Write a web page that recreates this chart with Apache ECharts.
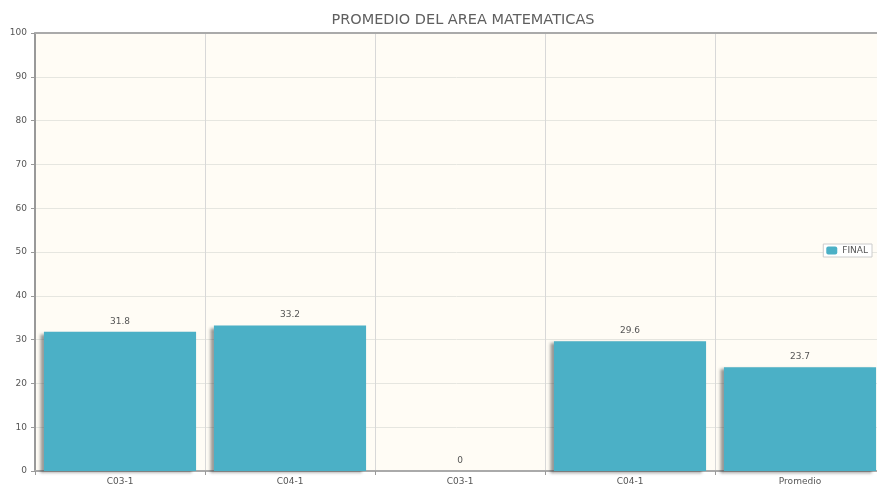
<!DOCTYPE html>
<html><head><meta charset="utf-8">
<script src="https://cdn.jsdelivr.net/npm/echarts@6/dist/echarts.min.js"></script>
<style>html,body{margin:0;padding:0;background:#fff}#c{width:877px;height:484px}</style>
</head><body><div id="c"></div>
<script>
const titleText = 'PROMEDIO DEL AREA MATEMATICAS';
const categories = ['C03-1', 'C04-1', 'C03-1 ', 'C04-1 ', 'Promedio'];
const seriesName = 'FINAL';
const finalValues = [31.8, 33.2, 0, 29.6, 23.7];
const yTicks = [0, 10, 20, 30, 40, 50, 60, 70, 80, 90, 100];

const chart = echarts.init(document.getElementById('c'));
chart.setOption({
  animation: false,
  backgroundColor: '#fff',
  title: {
    text: titleText, left: 458, textAlign: 'center', top: 8,
    textStyle: {fontFamily: 'DejaVu Sans', fontSize: 14.5, fontWeight: 'normal', color: '#5f5f5f'}
  },
  legend: {
    data: [seriesName], right: 5, top: 244, orient: 'vertical',
    itemWidth: 11, itemHeight: 8, itemGap: 4,
    padding: [2, 4, 2, 3],
    borderColor: '#ccc', borderWidth: 1, backgroundColor: '#fff',
    textStyle: {fontFamily: 'DejaVu Sans', fontSize: 9, color: '#555'}
  },
  grid: {left: 35, right: -8, top: 33, bottom: 13, show: true, backgroundColor: '#fffcf5', borderWidth: 0,
    containLabel: false, outerBoundsMode: 'none'},
  xAxis: {
    type: 'category', data: categories,
    axisLine: {lineStyle: {color: '#aaa', width: 2}},
    axisTick: {show: true, alignWithLabel: false, lineStyle: {color: '#999'}, length: 4},
    axisLabel: {fontFamily: 'DejaVu Sans', fontSize: 9, color: '#555', margin: 6, formatter: v => v.trim()},
    splitLine: {show: true, lineStyle: {color: '#d8d8d8', width: 1}}
  },
  yAxis: {
    type: 'value', min: 0, max: 100, interval: 10,
    axisLine: {show: true, lineStyle: {color: '#999', width: 2}},
    axisTick: {show: true, length: 4, lineStyle: {color: '#999'}},
    axisLabel: {fontFamily: 'DejaVu Sans', fontSize: 9, color: '#555', margin: 8,
      formatter: v => yTicks.includes(v) ? String(v) : ''},
    splitLine: {show: true, lineStyle: {color: '#e6e6e0', width: 1}}
  },
  graphic: [{type: 'line', shape: {x1: 35, y1: 33, x2: 877, y2: 33}, style: {stroke: '#aaa', lineWidth: 2}, z: 10}],
  series: [{
    name: seriesName, type: 'bar', data: finalValues,
    barCategoryGap: '10.5%',
    itemStyle: {color: '#4bb0c6', shadowColor: 'rgba(50,50,50,0.5)', shadowBlur: 3, shadowOffsetX: -4, shadowOffsetY: 2},
    label: {show: true, position: 'top', distance: 6, fontFamily: 'DejaVu Sans', fontSize: 9, color: '#555'}
  }]
});
</script></body></html>
